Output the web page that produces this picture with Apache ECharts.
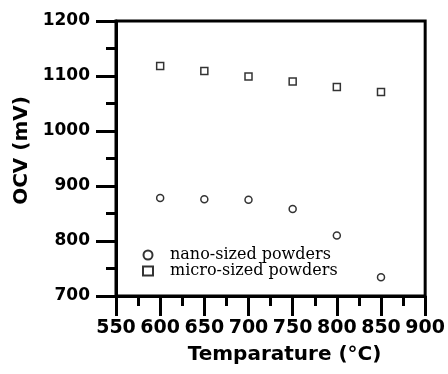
<!DOCTYPE html>
<html>
	<head>
		<meta charset="UTF-8">
		<script type="text/javascript" src="https://cdn.jsdelivr.net/npm/echarts@6/dist/echarts.min.js"></script>
		<title></title>
		<style>
			body { margin: 0; background: #fff; }
		</style>
	</head>
	<body>
		<div id="graph" style="width: 448px; height: 374px;"></div>
	</body>
	<script>
		var temps = [600, 650, 700, 750, 800, 850];
		var nanoOcv = [878, 876, 875, 858, 810, 734];
		var microOcv = [1118, 1109, 1099, 1090, 1080, 1071];
		var seriesNames = ['nano-sized powders', 'micro-sized powders'];

		function pairs(xs, ys) {
			var out = [];
			for (var i = 0; i < xs.length; i++) out.push([xs[i], ys[i]]);
			return out;
		}

		var myChart = echarts.init(document.getElementById('graph'));
		var tickStyle = { color: '#000', width: 3 };
		var markerStyle = { color: '#fff', borderColor: '#000', borderWidth: 1.5 };
		var option = {
			animation: false,
			grid: {
				left: 116, right: 19, top: 21, bottom: 78,
				show: true, borderColor: '#000', borderWidth: 3
			},
			legend: {
				orient: 'vertical',
				left: 137,
				top: 242,
				itemGap: 0,
				itemWidth: 10,
				itemHeight: 9,
				textStyle: { fontFamily: 'DejaVu Serif', fontSize: 16, color: '#000', padding: [0, 0, 0, 12] },
				data: seriesNames
			},
			xAxis: {
				type: 'value',
				min: 550, max: 900, interval: 50,
				name: 'Temparature (°C)',
				nameLocation: 'middle',
				nameGap: 49,
				nameTextStyle: { fontFamily: 'DejaVu Sans', fontWeight: 'bold', fontSize: 20, color: '#000', padding: [0, 0, 0, 28] },
				axisLine: { lineStyle: { color: '#000', width: 3 } },
				axisTick: { length: 20, lineStyle: tickStyle },
				minorTick: { show: true, splitNumber: 2, length: 10, lineStyle: tickStyle },
				axisLabel: { margin: 23, fontFamily: 'DejaVu Sans', fontWeight: 'bold', fontSize: 19, color: '#000' },
				splitLine: { show: false }
			},
			yAxis: {
				type: 'value',
				min: 700, max: 1200, interval: 100,
				name: 'OCV (mV)',
				nameLocation: 'middle',
				nameGap: 84,
				nameTextStyle: { fontFamily: 'DejaVu Sans', fontWeight: 'bold', fontSize: 20, color: '#000', padding: [0, 0, 0, 16] },
				axisLine: { lineStyle: { color: '#000', width: 3 } },
				axisTick: { length: 20, lineStyle: tickStyle },
				minorTick: { show: true, splitNumber: 2, length: 10, lineStyle: tickStyle },
				axisLabel: {
					margin: 26, fontFamily: 'DejaVu Sans', fontWeight: 'bold', fontSize: 17, color: '#000',
					formatter: function (v) { return String(v); }
				},
				splitLine: { show: false }
			},
			series: [
				{
					name: seriesNames[0],
					type: 'scatter',
					symbol: 'circle',
					symbolSize: 7,
					itemStyle: markerStyle,
					data: pairs(temps, nanoOcv)
				},
				{
					name: seriesNames[1],
					type: 'scatter',
					symbol: 'rect',
					symbolSize: 7,
					itemStyle: markerStyle,
					data: pairs(temps, microOcv)
				}
			]
		};
		myChart.setOption(option);
	</script>
</html>
